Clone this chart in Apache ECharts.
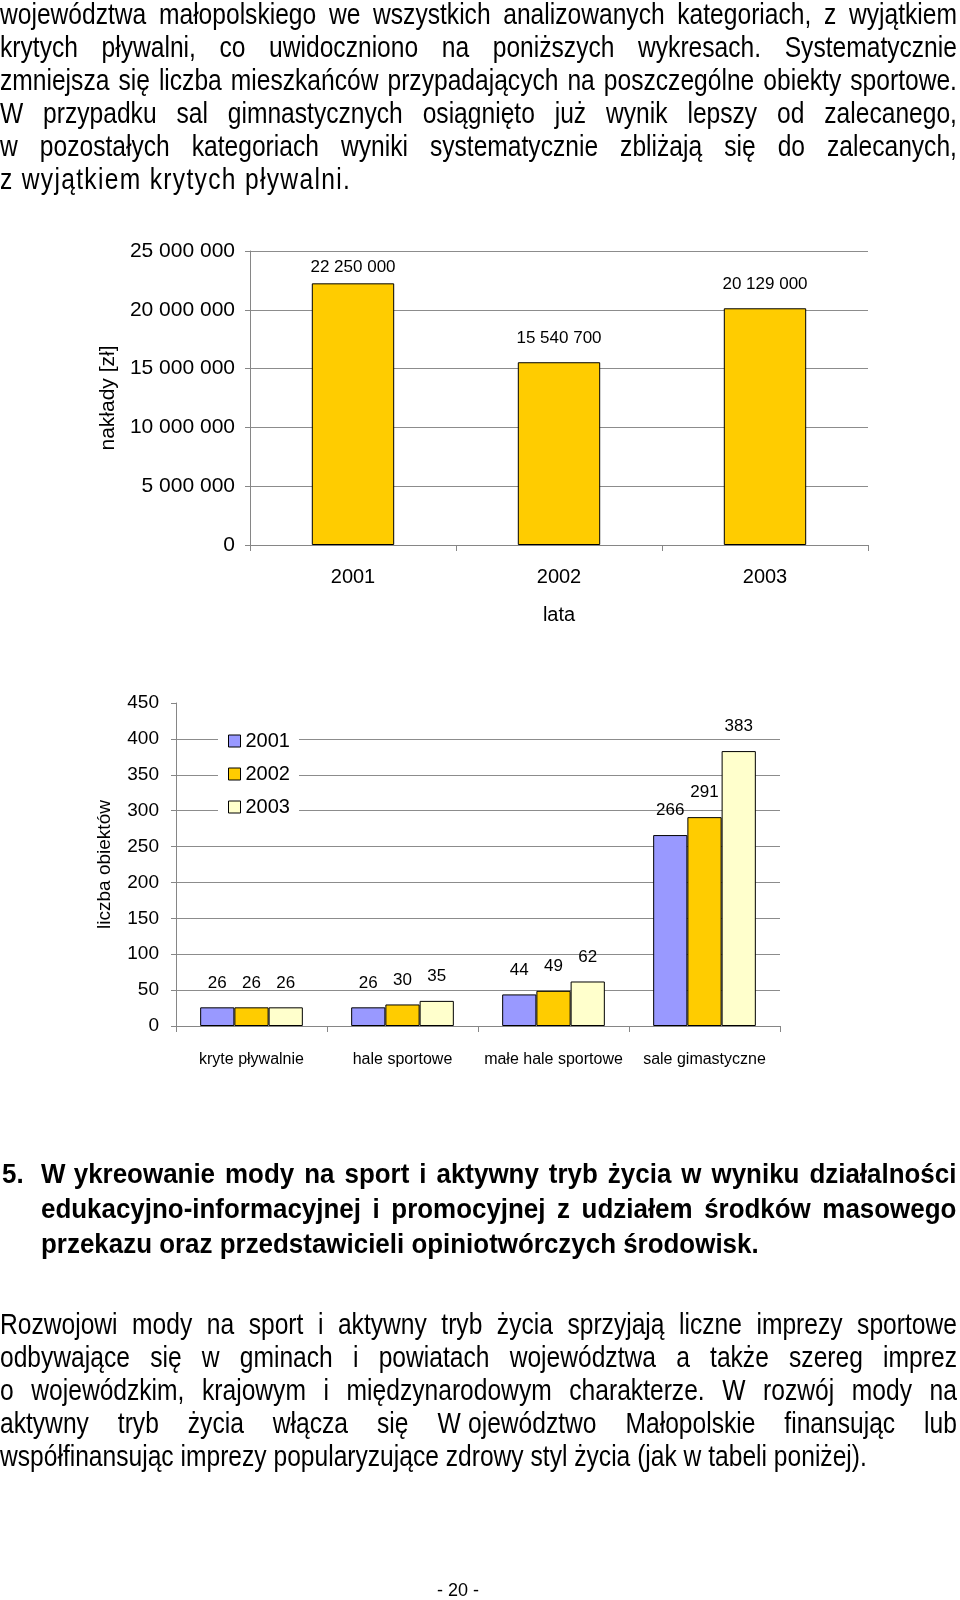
<!DOCTYPE html>
<html>
<head>
<meta charset="utf-8">
<script src="https://cdn.jsdelivr.net/npm/echarts@6/dist/echarts.min.js"></script>
<style>
  html, body { margin:0; padding:0; background:#fff; }
  body { width:960px; height:1600px; position:relative; overflow:hidden; }
  #c { position:absolute; left:0; top:0; width:960px; height:1600px; }
  .txt { position:absolute; transform-origin:0 0; transform:scaleX(0.82); font-family:"Liberation Sans", Arial, sans-serif; color:#000; }
  .body { font-size:30px; line-height:33px; }
  .head { font-size:28.2px; line-height:35px; font-weight:bold; transform:scaleX(0.92); }
  .txt div { white-space:nowrap; }
  .txt .j { text-align:justify; text-align-last:justify; }
  .txt .e { text-align:left; }
  .gapW { margin-right:9px; }
  .sp { letter-spacing:1.6px; }
  #pg { position:absolute; left:0; width:916px; top:1579px; text-align:center; font-family:"Liberation Sans", Arial, sans-serif; font-size:18px; line-height:22px; }
</style>
</head>
<body>
<div id="c"></div>

<div class="txt body" style="left:0;top:-3px;width:1167px;">
  <div class="j">województwa małopolskiego we wszystkich analizowanych kategoriach, z wyjątkiem</div>
  <div class="j">krytych pływalni, co uwidoczniono na poniższych wykresach. Systematycznie</div>
  <div class="j">zmniejsza się liczba mieszkańców przypadających na poszczególne obiekty sportowe.</div>
  <div class="j">W przypadku sal gimnastycznych osiągnięto już wynik lepszy od zalecanego,</div>
  <div class="j">w pozostałych kategoriach wyniki systematycznie zbliżają się do zalecanych,</div>
  <div class="e sp">z wyjątkiem krytych pływalni.</div>
</div>

<div class="txt head" style="left:2px;top:1156px;width:60px;"><div class="e">5.</div></div>
<div class="txt head" style="left:41px;top:1156px;width:995px;">
  <div class="j"><span class="gapW">W</span>ykreowanie mody na sport i aktywny tryb życia w wyniku działalności</div>
  <div class="j">edukacyjno-informacyjnej i promocyjnej z udziałem środków masowego</div>
  <div class="e">przekazu oraz przedstawicieli opiniotwórczych środowisk.</div>
</div>

<div class="txt body" style="left:0;top:1307px;width:1167px;">
  <div class="j">Rozwojowi mody na sport i aktywny tryb życia sprzyjają liczne imprezy sportowe</div>
  <div class="j">odbywające się w gminach i powiatach województwa a także szereg imprez</div>
  <div class="j">o wojewódzkim, krajowym i międzynarodowym charakterze. W rozwój mody na</div>
  <div class="j">aktywny tryb życia włącza się <span class="gapW">W</span>ojewództwo Małopolskie finansując lub</div>
  <div class="e">współfinansując imprezy popularyzujące zdrowy styl życia (jak w tabeli poniżej).</div>
</div>

<div id="pg">- 20 -</div>

<script>
// ---- data ----
const years = ['2001', '2002', '2003'];
const spending = [22250000, 15540700, 20129000];
const facilityCategories = ['kryte pływalnie', 'hale sportowe', 'małe hale sportowe', 'sale gimastyczne'];
const objects2001 = [26, 26, 44, 266];
const objects2002 = [26, 30, 49, 291];
const objects2003 = [26, 35, 62, 383];
const facilitySeries = [objects2001, objects2002, objects2003];
const facilityColors = ['#9999FF', '#FFCC00', '#FFFFCC'];

const fmt = v => String(v).replace(/\B(?=(\d{3})+(?!\d))/g, ' ');
const axisGray = '#868686';
const gridGray = '#8c8c8c';
const FF = '"Liberation Sans", Arial, sans-serif';

const chart = echarts.init(document.getElementById('c'), null, { renderer: 'canvas' });

const axisCommon = {
  axisLine: { show: true, lineStyle: { color: axisGray, width: 1 } },
  axisTick: { show: true, length: 6, lineStyle: { color: axisGray } }
};

const option = {
  animation: false,
  backgroundColor: '#fff',
  textStyle: { fontFamily: FF, color: '#000' },
  grid: [
    { left: 250, top: 251, width: 618, height: 294 },
    { left: 176, top: 703, width: 604, height: 323 }
  ],
  xAxis: [
    Object.assign({}, axisCommon, {
      gridIndex: 0, type: 'category', data: years,
      axisLabel: { fontSize: 20, color: '#000', margin: 22, fontFamily: FF },
      name: 'lata', nameLocation: 'middle', nameGap: 60,
      nameTextStyle: { fontSize: 20, color: '#000', fontFamily: FF }
    }),
    Object.assign({}, axisCommon, {
      gridIndex: 1, type: 'category', data: facilityCategories,
      axisLabel: { fontSize: 16, color: '#000', margin: 26, interval: 0, fontFamily: FF }
    })
  ],
  yAxis: [
    Object.assign({}, axisCommon, {
      gridIndex: 0, type: 'value', min: 0, max: 25000000, interval: 5000000,
      axisTick: { show: true, length: 5, lineStyle: { color: axisGray } },
      axisLabel: { fontSize: 21, color: '#000', margin: 15, formatter: fmt, fontFamily: FF },
      splitLine: { show: true, lineStyle: { color: gridGray, width: 1 } },
      name: 'nakłady [zł]', nameLocation: 'middle', nameGap: 130,
      nameTextStyle: { fontSize: 21, color: '#000', fontFamily: FF }
    }),
    Object.assign({}, axisCommon, {
      gridIndex: 1, type: 'value', min: 0, max: 450, interval: 50,
      axisTick: { show: true, length: 5, lineStyle: { color: axisGray } },
      axisLabel: { fontSize: 19, color: '#000', margin: 17, fontFamily: FF },
      splitLine: { show: true, showMaxLine: false, lineStyle: { color: gridGray, width: 1 } },
      name: 'liczba obiektów', nameLocation: 'middle', nameGap: 62,
      nameTextStyle: { fontSize: 19, color: '#000', fontFamily: FF }
    })
  ],
  legend: {
    data: years,
    orient: 'vertical',
    left: 218, top: 723,
    itemWidth: 12, itemHeight: 12, itemGap: 13,
    icon: 'rect',
    backgroundColor: '#fff',
    padding: [8, 9, 8, 10],
    itemStyle: { borderColor: '#000', borderWidth: 1 },
    textStyle: { fontSize: 20, color: '#000', fontFamily: FF }
  },
  series: [
    {
      type: 'bar', name: 'nakłady', xAxisIndex: 0, yAxisIndex: 0,
      data: spending.map((v, i) => i === 0 ? { value: v, label: { distance: 8 } } : v),
      barWidth: '40%',
      itemStyle: { color: '#FFCC00', borderColor: '#000', borderWidth: 1 },
      label: { show: true, position: 'top', distance: 15, fontSize: 17, color: '#000', fontFamily: FF,
               formatter: p => fmt(p.value) }
    }
  ].concat(facilitySeries.map((vals, k) => ({
    type: 'bar', name: years[k], xAxisIndex: 1, yAxisIndex: 1,
    data: vals,
    barGap: '0%', barCategoryGap: '32%',
    itemStyle: { color: facilityColors[k], borderColor: '#000', borderWidth: 1 },
    label: { show: true, position: 'top', distance: 16, fontSize: 17, color: '#000', fontFamily: FF }
  })))
};

chart.setOption(option);
</script>
</body>
</html>
